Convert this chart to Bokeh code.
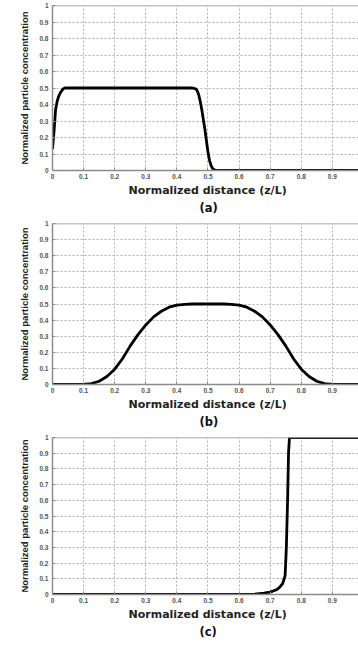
from bokeh.plotting import figure
from bokeh.layouts import column
from bokeh.models import Span, Title, FixedTicker, Range1d
from bokeh.embed import file_html
from bokeh.resources import INLINE

# ---- data ----
x_ticks = [0, 0.1, 0.2, 0.3, 0.4, 0.5, 0.6, 0.7, 0.8, 0.9, 1.0]
x_tick_labels = ["0", "0.1", "0.2", "0.3", "0.4", "0.5", "0.6", "0.7", "0.8", "0.9", "1"]
y_ticks = [0, 0.1, 0.2, 0.3, 0.4, 0.5, 0.6, 0.7, 0.8, 0.9, 1.0]
y_tick_labels = ["0", "0.1", "0.2", "0.3", "0.4", "0.5", "0.6", "0.7", "0.8", "0.9", "1"]

a_x = [0, 0.005, 0.01, 0.015, 0.02, 0.025, 0.03, 0.035, 0.04, 0.1, 0.2, 0.3, 0.4, 0.45,
       0.46, 0.465, 0.47, 0.475, 0.48, 0.485, 0.49, 0.495, 0.5, 0.505, 0.51, 0.515, 0.52, 0.53, 0.7, 1.0]
a_y = [0.13, 0.24, 0.37, 0.42, 0.45, 0.47, 0.485, 0.495, 0.5, 0.5, 0.5, 0.5, 0.5, 0.5,
       0.495, 0.485, 0.46, 0.42, 0.37, 0.31, 0.25, 0.18, 0.11, 0.06, 0.03, 0.012, 0.004, 0.0, 0.0, 0.0]

b_x = [0, 0.05, 0.1, 0.125, 0.15, 0.175, 0.2, 0.225, 0.25, 0.275, 0.3, 0.325, 0.35, 0.375, 0.4, 0.425,
       0.45, 0.5, 0.55, 0.575, 0.6, 0.625, 0.65, 0.675, 0.7, 0.725, 0.75, 0.775, 0.8, 0.825, 0.85, 0.875, 0.9, 1.0]
b_y = [0, 0, 0, 0.005, 0.02, 0.05, 0.095, 0.16, 0.24, 0.31, 0.37, 0.42, 0.455, 0.48, 0.493, 0.498,
       0.5, 0.5, 0.5, 0.498, 0.493, 0.48, 0.455, 0.42, 0.37, 0.31, 0.24, 0.16, 0.095, 0.05, 0.02, 0.005, 0, 0]

c_x = [0, 0.3, 0.6, 0.65, 0.68, 0.7, 0.72, 0.73, 0.74, 0.745, 0.748, 0.752, 0.756, 0.759, 0.762, 0.8, 1.0]
c_y = [0, 0, 0, 0.003, 0.008, 0.015, 0.03, 0.045, 0.07, 0.1, 0.12, 0.3, 0.6, 0.9, 1.0, 1.0, 1.0]

panel_labels = ["(a)", "(b)", "(c)"]
x_title = "Normalized distance (z/L)"
y_title = "Normalized particle concentration"

GRID = "#b0b0b0"
AX = "#8c8c8c"


def make_panel(xs, ys, label, height, top, bottom):
    p = figure(width=358, height=height, output_backend="svg", toolbar_location=None,
               x_range=Range1d(0, 0.984), y_range=Range1d(0, 1),
               min_border_left=52, min_border_right=0, min_border_top=top,
               min_border_bottom=bottom)
    p.outline_line_color = None
    p.background_fill_color = "white"
    p.border_fill_color = "white"

    p.line(xs, ys, line_color="black", line_width=2.8)

    p.xaxis.ticker = FixedTicker(ticks=x_ticks)
    p.yaxis.ticker = FixedTicker(ticks=y_ticks)
    p.xaxis.major_label_overrides = dict(zip(x_ticks, x_tick_labels))
    p.yaxis.major_label_overrides = dict(zip(y_ticks, y_tick_labels))
    for ax in (p.xaxis, p.yaxis):
        ax.axis_line_color = AX
        ax.axis_line_width = 1.5
        ax.major_tick_in = 3
        ax.major_tick_out = 0
        ax.major_tick_line_color = AX
        ax.minor_tick_line_color = None
        ax.major_label_text_font = "Liberation Sans"
        ax.major_label_text_font_size = "6.5px"
        ax.major_label_text_font_style = "bold"
        ax.major_label_text_color = "#555555"
        ax.major_label_standoff = 3
    p.yaxis.major_label_standoff = 4
    p.yaxis.axis_label = y_title
    p.yaxis.axis_label_text_font = "Liberation Sans"
    p.yaxis.axis_label_text_font_size = "9.5px"
    p.yaxis.axis_label_text_font_style = "bold"
    p.yaxis.axis_label_text_color = "#222222"
    p.yaxis.axis_label_standoff = 6

    for g in (p.xgrid, p.ygrid):
        g.ticker = FixedTicker(ticks=x_ticks)
        g.grid_line_color = GRID
        g.grid_line_dash = "2 2"
        g.grid_line_width = 1

    p.add_layout(Span(location=1, dimension="width", line_color=AX, line_width=1.5))

    t1 = Title(text=x_title, align="left", offset=76, standoff=0,
               text_font="DejaVu Sans", text_font_size="11px", text_font_style="bold",
               text_color="#222222")
    p.add_layout(t1, "below")
    t2 = Title(text=label, align="left", offset=147, standoff=5,
               text_font="DejaVu Sans", text_font_size="11.5px", text_font_style="bold",
               text_color="#111111")
    p.add_layout(t2, "below")
    return p


pa = make_panel(a_x, a_y, panel_labels[0], 5 + 167 + 45, 5, 45)
pb = make_panel(b_x, b_y, panel_labels[1], 6 + 166 + 42, 6, 42)
pc = make_panel(c_x, c_y, panel_labels[2], 6 + 166 + 38, 6, 38)

layout = column(pa, pb, pc)

open("out.html", "w").write(file_html(layout, INLINE))
